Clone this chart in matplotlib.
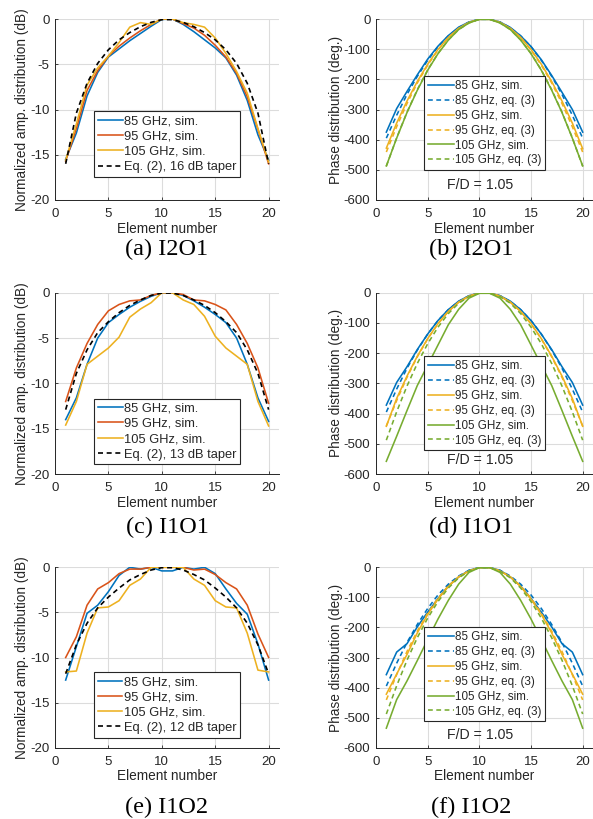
import matplotlib
matplotlib.use("Agg")
import matplotlib.pyplot as plt

plt.rcParams["font.family"] = ["Liberation Sans", "DejaVu Sans"]
plt.rcParams["axes.unicode_minus"] = False

# MATLAB default line colours
C_BLUE = "#0072BD"
C_RED = "#D95319"
C_YELLOW = "#EDB120"
C_GREEN = "#77AC30"
AX_COL = "#262626"
GRID_COL = "#dcdcdc"

elements = list(range(1, 21))

# amplitude (dB), panel (a) I2O1
a_85 = [-15.5, -12.6, -8.5, -5.9, -4.2, -3.3, -2.4, -1.6, -0.8, -0.05,
        0.0, -0.6, -1.4, -2.3, -3.2, -4.3, -6.2, -9.0, -12.8, -15.6]
a_95 = [-15.7, -12.1, -7.9, -5.7, -4.1, -3.0, -2.1, -1.3, -0.6, 0.0,
        0.0, -0.5, -1.0, -1.8, -2.9, -4.2, -6.0, -8.6, -12.2, -16.0]
a_105 = [-15.6, -11.6, -7.3, -5.4, -4.1, -2.6, -0.9, -0.4, -0.6, 0.0,
         0.0, -0.4, -0.6, -0.9, -2.1, -3.8, -5.8, -8.2, -12.1, -15.8]
a_eq = [-16.0, -10.4, -7.1, -4.9, -3.4, -2.3, -1.5, -0.85, -0.37, -0.07,
        -0.07, -0.37, -0.85, -1.5, -2.3, -3.4, -4.9, -7.1, -10.4, -16.0]

# amplitude (dB), panel (c) I1O1
c_85 = [-14.0, -11.6, -7.9, -5.0, -3.3, -2.4, -1.6, -0.95, -0.4, 0.0,
        0.0, -0.3, -0.9, -1.6, -2.4, -3.3, -5.0, -7.9, -11.6, -14.2]
c_95 = [-12.0, -8.3, -5.6, -3.5, -2.0, -1.3, -0.9, -0.8, -0.3, 0.0,
        0.0, -0.2, -0.8, -0.9, -1.3, -1.9, -3.5, -5.6, -8.3, -12.2]
c_105 = [-14.6, -12.0, -7.9, -7.0, -6.1, -4.9, -2.7, -1.8, -1.1, 0.0,
         0.0, -0.8, -1.3, -2.6, -4.8, -6.1, -7.0, -7.9, -12.0, -14.7]
c_eq = [-12.9, -8.9, -6.3, -4.4, -3.2, -2.2, -1.4, -0.8, -0.3, -0.04,
        -0.04, -0.3, -0.8, -1.4, -2.2, -3.2, -4.4, -6.3, -8.9, -12.9]

# amplitude (dB), panel (e) I1O2
e_85 = [-12.5, -8.8, -5.1, -4.2, -2.7, -0.9, 0.0, -0.2, 0.0, -0.4,
        -0.4, 0.0, -0.2, 0.0, -0.7, -2.4, -4.0, -5.2, -8.5, -12.5]
e_95 = [-10.0, -7.7, -4.2, -2.4, -1.7, -0.7, -0.2, -0.2, 0.0, 0.0,
        0.0, 0.0, -0.3, -0.2, -0.8, -1.7, -2.4, -4.2, -7.4, -10.0]
e_105 = [-11.6, -11.5, -7.3, -4.5, -4.4, -3.7, -2.0, -1.3, 0.0, 0.0,
         0.0, 0.0, -1.3, -2.0, -3.7, -4.4, -4.5, -7.3, -11.4, -11.6]
e_eq = [-11.8, -8.6, -6.2, -4.5, -3.3, -2.3, -1.4, -0.8, -0.3, -0.04,
        -0.04, -0.3, -0.8, -1.4, -2.3, -3.3, -4.5, -6.2, -8.6, -11.8]

# phase (deg.), eq. (3) -- same for all feeds
eq_85 = [-395, -319, -250, -190, -137, -92, -56, -29, -10, -1,
         -1, -10, -29, -56, -92, -137, -190, -250, -319, -395]
eq_95 = [-441, -357, -280, -212, -153, -103, -62, -32, -12, -1,
         -1, -12, -32, -62, -103, -153, -212, -280, -357, -441]
eq_105 = [-488, -394, -309, -234, -169, -114, -69, -35, -13, -1,
          -1, -13, -35, -69, -114, -169, -234, -309, -394, -488]

# phase (deg.), simulated
b_85 = [-375, -297, -240, -185, -133, -90, -55, -27, -10, -1,
        -1, -10, -28, -56, -91, -135, -187, -243, -300, -375]
b_95 = [-428, -345, -272, -207, -150, -101, -61, -31, -11, -1,
        -1, -11, -31, -61, -101, -150, -207, -272, -345, -430]
b_105 = [-487, -395, -310, -236, -170, -115, -70, -35, -13, -1,
         -1, -13, -35, -70, -115, -170, -236, -310, -395, -487]

d_85 = [-372, -297, -245, -188, -137, -92, -56, -28, -10, -1,
        -1, -10, -28, -56, -92, -137, -188, -245, -297, -372]
d_95 = [-442, -350, -276, -210, -152, -102, -62, -31, -11, -1,
        -1, -11, -31, -62, -102, -152, -210, -276, -350, -442]
d_105 = [-558, -475, -390, -307, -240, -173, -106, -55, -18, -2,
         -2, -18, -55, -106, -173, -240, -307, -390, -475, -558]

f_85 = [-357, -282, -254, -198, -149, -104, -62, -32, -10, -1,
        -1, -10, -32, -62, -104, -149, -198, -254, -282, -357]
f_95 = [-422, -355, -290, -218, -157, -106, -64, -32, -12, -1,
        -1, -12, -32, -64, -106, -157, -218, -290, -355, -422]
f_105 = [-535, -440, -378, -310, -240, -172, -110, -56, -17, -1,
         -1, -17, -56, -110, -172, -240, -310, -378, -440, -535]

amp_panels = [
    (a_85, a_95, a_105, a_eq, "Eq. (2), 16 dB taper", "(a) I2O1"),
    (c_85, c_95, c_105, c_eq, "Eq. (2), 13 dB taper", "(c) I1O1"),
    (e_85, e_95, e_105, e_eq, "Eq. (2), 12 dB taper", "(e) I1O2"),
]
phase_panels = [
    (b_85, b_95, b_105, "(b) I2O1"),
    (d_85, d_95, d_105, "(d) I1O1"),
    (f_85, f_95, f_105, "(f) I1O2"),
]

W, H = 593, 819
ROW_TB = [(19, 200), (292.7, 474), (567.3, 747.7)]
CAP_Y = [249, 527, 807]
AMP_LEG_Y = [0.127, 0.053, 0.055]
PH_LEG_Y = [0.166, 0.132, 0.148]
FD_Y = [0.083, 0.077, 0.07]

fig = plt.figure(figsize=(W / 100, H / 100), dpi=100)


def px_rect(l, r, t, b):
    return [l / W, 1 - b / H, (r - l) / W, (b - t) / H]


def style(ax, ylim, yticks, ylabel):
    ax.set_xlim(0, 21)
    ax.set_ylim(*ylim)
    ax.set_xticks([0, 5, 10, 15, 20])
    ax.set_yticks(yticks)
    ax.grid(True, color=GRID_COL, linewidth=0.8)
    ax.set_axisbelow(True)
    for s in ["top", "right"]:
        ax.spines[s].set_visible(False)
    for s in ["left", "bottom"]:
        ax.spines[s].set_color(AX_COL)
        ax.spines[s].set_linewidth(0.7)
    ax.tick_params(direction="in", length=2.5, width=0.6, colors=AX_COL,
                   labelsize=9.5)
    ax.tick_params(axis="x", pad=6)
    ax.tick_params(axis="y", pad=4)
    ax.set_xlabel("Element number", fontsize=9.8, color=AX_COL, labelpad=1)
    ax.set_ylabel(ylabel, fontsize=9.8, color=AX_COL, labelpad=0.5)


def legend(ax, y, size, hlen):
    leg = ax.legend(loc="lower center", bbox_to_anchor=(0.5, y),
                    borderaxespad=0, fontsize=size, handlelength=hlen,
                    handletextpad=0.1, borderpad=0.3, labelspacing=0.25,
                    fancybox=False, framealpha=1, edgecolor=AX_COL)
    leg.get_frame().set_linewidth(0.8)
    for t in leg.get_texts():
        t.set_color(AX_COL)


for i, (s85, s95, s105, seq, eq_label, cap) in enumerate(amp_panels):
    t, b = ROW_TB[i]
    ax = fig.add_axes(px_rect(55, 279.3, t, b))
    ax.plot(elements, s85, color=C_BLUE, lw=1.15, label="85 GHz, sim.")
    ax.plot(elements, s95, color=C_RED, lw=1.15, label="95 GHz, sim.")
    ax.plot(elements, s105, color=C_YELLOW, lw=1.15, label="105 GHz, sim.")
    ax.plot(elements, seq, color="black", lw=1.2, ls=(0, (3, 2.2)), label=eq_label)
    style(ax, (-20, 0), [-20, -15, -10, -5, 0], "Normalized amp. distribution (dB)")
    legend(ax, AMP_LEG_Y[i], 9.3, 1.9)
    fig.text(167 / W, 1 - CAP_Y[i] / H, cap, ha="center", va="center",
             family="Liberation Serif", fontsize=17.5, color="black")

for i, (s85, s95, s105, cap) in enumerate(phase_panels):
    t, b = ROW_TB[i]
    ax = fig.add_axes(px_rect(376, 593, t, b))
    dash = (0, (3, 2.2))
    ax.plot(elements, s85, color=C_BLUE, lw=1.15, label="85 GHz, sim.")
    ax.plot(elements, eq_85, color=C_BLUE, lw=1.15, ls=dash, label="85 GHz, eq. (3)")
    ax.plot(elements, s95, color=C_YELLOW, lw=1.15, label="95 GHz, sim.")
    ax.plot(elements, eq_95, color=C_YELLOW, lw=1.15, ls=dash, label="95 GHz, eq. (3)")
    ax.plot(elements, s105, color=C_GREEN, lw=1.15, label="105 GHz, sim.")
    ax.plot(elements, eq_105, color=C_GREEN, lw=1.15, ls=dash, label="105 GHz, eq. (3)")
    style(ax, (-600, 0), [-600, -500, -400, -300, -200, -100, 0], "Phase distribution (deg.)")
    legend(ax, PH_LEG_Y[i], 8.4, 2.2)
    ax.text(0.48, FD_Y[i], "F/D = 1.05", transform=ax.transAxes, ha="center",
            va="center", fontsize=10.2, color=AX_COL)
    fig.text(471 / W, 1 - CAP_Y[i] / H, cap, ha="center", va="center",
             family="Liberation Serif", fontsize=17.5, color="black")

fig.savefig("out.png", dpi=100, facecolor="white")
plt.close(fig)
